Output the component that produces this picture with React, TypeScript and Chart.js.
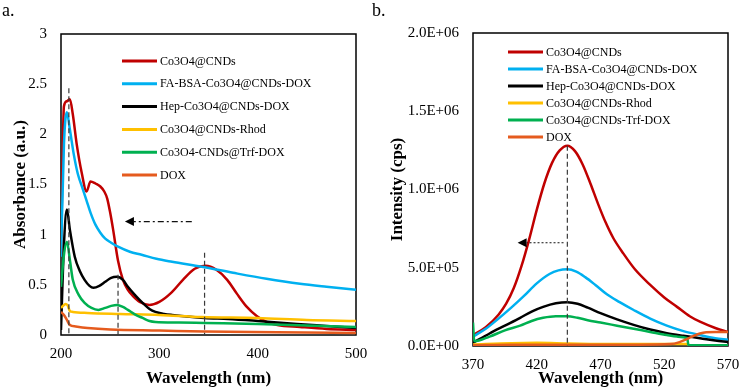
import React, { useEffect, useRef } from "react";
import { Chart, registerables } from "chart.js";

Chart.register(...registerables);

const SERIF = "'Liberation Serif', 'Times New Roman', serif";

// Series colours shared by both panels
const seriesColors = ["#C00000", "#00B0F0", "#000000", "#FFC000", "#00B050", "#E55B1E"];

// ---------- Panel a: UV-vis absorbance ----------
const absLabels = [
  "Co3O4@CNDs",
  "FA-BSA-Co3O4@CNDs-DOX",
  "Hep-Co3O4@CNDs-DOX",
  "Co3O4@CNDs-Rhod",
  "Co3O4-CNDs@Trf-DOX",
  "DOX",
];
const absXTicks = [200, 300, 400, 500];
const absYTicks = [0, 0.5, 1, 1.5, 2, 2.5, 3];

// [wavelength (nm), absorbance]
const absCo3O4 = [
  [200, 0.8], [203, 2.28], [206, 2.33], [209, 2.35], [212, 2.2], [216, 1.9], [221, 1.62],
  [226, 1.43], [230, 1.53], [235, 1.51], [240, 1.48], [244, 1.43], [247, 1.36], [250, 1.22],
  [253, 1.05], [258, 0.74], [263, 0.55], [268, 0.45], [273, 0.39], [280, 0.33], [290, 0.3],
  [300, 0.33], [312, 0.42], [324, 0.55], [336, 0.66], [347, 0.69], [358, 0.65], [369, 0.55],
  [379, 0.41], [389, 0.28], [399, 0.19], [409, 0.13], [420, 0.1], [443, 0.08], [470, 0.06],
  [500, 0.05],
];
const absFaBsa = [
  [200, 0.78], [203, 1.9], [206, 2.22], [209, 2.05], [213, 1.8], [217, 1.61], [222, 1.46],
  [226, 1.34], [230, 1.22], [235, 1.1], [240, 1.02], [245, 0.96], [251, 0.92], [258, 0.88],
  [270, 0.83], [282, 0.8], [297, 0.76], [313, 0.73], [343, 0.68], [375, 0.62], [409, 0.56],
  [443, 0.51], [470, 0.48], [500, 0.45],
];
const absHep = [
  [200, 0.05], [203, 0.9], [206, 1.25], [209, 1.05], [214, 0.78], [219, 0.64], [224, 0.55],
  [229, 0.49], [233, 0.47], [239, 0.49], [245, 0.53], [251, 0.57], [257, 0.58], [263, 0.55],
  [268, 0.48], [276, 0.39], [283, 0.32], [290, 0.26], [296, 0.23], [305, 0.21], [313, 0.2],
  [346, 0.17], [370, 0.16], [400, 0.14], [440, 0.11], [470, 0.09], [500, 0.07],
];
const absRhod = [
  [200, 0.27], [203, 0.3], [205, 0.31], [207, 0.29], [209, 0.24], [212, 0.23], [227, 0.22],
  [260, 0.21], [300, 0.2], [343, 0.18], [400, 0.17], [450, 0.15], [500, 0.14],
];
const absTrf = [
  [200, 0.48], [203, 0.8], [206, 0.93], [209, 0.75], [212, 0.55], [218, 0.4], [224, 0.32],
  [231, 0.27], [238, 0.25], [245, 0.27], [251, 0.29], [257, 0.3], [263, 0.28], [268, 0.25],
  [276, 0.2], [283, 0.17], [290, 0.14], [296, 0.13], [320, 0.125], [346, 0.12], [400, 0.11],
  [450, 0.095], [500, 0.08],
];
const absDox = [
  [200, 0.23], [203, 0.2], [206, 0.15], [209, 0.1], [215, 0.085], [227, 0.07], [250, 0.055],
  [300, 0.045], [346, 0.035], [420, 0.028], [500, 0.02],
];
const absSeries = [absCo3O4, absFaBsa, absHep, absRhod, absTrf, absDox];

// dashed peak guides: [wavelength, top absorbance]
const absGuides = [[208, 2.46], [258, 0.6], [346, 0.82]];
// blue-shift arrow: from / to wavelength at a given absorbance
const absArrow = { from: 333, to: 265, level: 1.13 };

// ---------- Panel b: fluorescence emission ----------
const flLabels = [
  "Co3O4@CNDs",
  "FA-BSA-Co3O4@CNDs-DOX",
  "Hep-Co3O4@CNDs-DOX",
  "Co3O4@CNDs-Rhod",
  "Co3O4@CNDs-Trf-DOX",
  "DOX",
];
const flXTicks = [370, 420, 470, 520, 570];
const flYTicks = [0, 5e5, 1e6, 1.5e6, 2e6];

// [wavelength (nm), intensity (cps)]
const flCo3O4 = [
  [370, 0.07e6], [380, 0.12e6], [390, 0.2e6], [396, 0.27e6], [402, 0.37e6], [408, 0.51e6],
  [414, 0.68e6], [420, 0.87e6], [426, 1.04e6], [432, 1.17e6], [438, 1.25e6], [444, 1.28e6],
  [450, 1.245e6], [456, 1.16e6], [462, 1.04e6], [468, 0.91e6], [474, 0.79e6], [480, 0.69e6],
  [488, 0.59e6], [497, 0.49e6], [509, 0.39e6], [520, 0.31e6], [530, 0.25e6], [540, 0.19e6],
  [548, 0.155e6], [560, 0.115e6], [570, 0.09e6],
];
const flFaBsa = [
  [370, 0.06e6], [380, 0.11e6], [390, 0.175e6], [400, 0.245e6], [410, 0.32e6], [420, 0.4e6],
  [430, 0.46e6], [437, 0.483e6], [444, 0.49e6], [451, 0.475e6], [458, 0.44e6], [466, 0.39e6],
  [475, 0.33e6], [485, 0.28e6], [496, 0.23e6], [509, 0.175e6], [522, 0.13e6], [535, 0.095e6],
  [548, 0.07e6], [560, 0.05e6], [570, 0.04e6],
];
const flHep = [
  [370, 0.02e6], [383, 0.08e6], [395, 0.13e6], [407, 0.18e6], [416, 0.22e6], [425, 0.25e6],
  [435, 0.273e6], [444, 0.28e6], [452, 0.27e6], [460, 0.245e6], [470, 0.21e6], [483, 0.17e6],
  [496, 0.135e6], [509, 0.105e6], [522, 0.082e6], [535, 0.065e6], [548, 0.05e6],
  [560, 0.035e6], [570, 0.025e6],
];
const flRhod = [
  [370, 0.01e6], [400, 0.018e6], [420, 0.02e6], [445, 0.016e6], [480, 0.012e6],
  [520, 0.012e6], [538, 0.012e6], [540, 0.004e6], [570, 0.004e6],
];
const flTrf = [
  [370, 0.15e6], [371, 0.03e6], [383, 0.06e6], [395, 0.1e6], [407, 0.13e6], [416, 0.16e6],
  [425, 0.18e6], [435, 0.19e6], [444, 0.19e6], [452, 0.18e6], [460, 0.165e6], [470, 0.15e6],
  [483, 0.13e6], [496, 0.11e6], [509, 0.09e6], [522, 0.07e6], [530, 0.06e6], [538, 0.05e6],
  [539, 0.005e6], [570, 0.005e6],
];
const flDox = [
  [370, 0.005e6], [400, 0.008e6], [450, 0.008e6], [500, 0.008e6], [525, 0.012e6],
  [532, 0.025e6], [538, 0.045e6], [543, 0.065e6], [548, 0.08e6], [553, 0.088e6],
  [560, 0.09e6], [570, 0.09e6],
];
const flSeries = [flCo3O4, flFaBsa, flHep, flRhod, flTrf, flDox];

const flGuides = [[444, 1.28e6]];
const flArrow = { from: 441, to: 405, level: 0.66e6 };

// ---------- helpers ----------
function sciLabel(v: number) {
  const [m, e] = v.toExponential(1).split("e");
  const sign = e.startsWith("-") ? "-" : "+";
  const digits = e.replace(/[+-]/, "").padStart(2, "0");
  return `${m}E${sign}${digits}`;
}

type Deco = {
  letter: string;
  guides: number[][];
  arrow: { from: number; to: number; level: number };
  arrowDash: number[];
  legendLeft: number;
  legendTop: number;
  legendGap: number;
};

function decorPlugin(d: Deco) {
  return {
    id: "decor",
    beforeDatasetsDraw(chart: any) {
      const { ctx, chartArea: a } = chart;
      ctx.save();
      ctx.strokeStyle = "#000";
      ctx.lineWidth = 1.5;
      ctx.strokeRect(a.left, a.top, a.right - a.left, a.bottom - a.top);
      ctx.restore();
    },
    afterDatasetsDraw(chart: any) {
      const { ctx, chartArea: a, scales } = chart;
      const xs = scales.x;
      const ys = scales.y;
      ctx.save();
      // dashed peak guides
      ctx.strokeStyle = "#3a3a3a";
      ctx.lineWidth = 1.2;
      ctx.setLineDash([5, 3]);
      d.guides.forEach(([wl, top]) => {
        const px = xs.getPixelForValue(wl);
        ctx.beginPath();
        ctx.moveTo(px, ys.getPixelForValue(top));
        ctx.lineTo(px, a.bottom);
        ctx.stroke();
      });
      // shift arrow
      const ay = ys.getPixelForValue(d.arrow.level);
      const x0 = xs.getPixelForValue(d.arrow.from);
      const tip = xs.getPixelForValue(d.arrow.to);
      const headLen = 9;
      ctx.strokeStyle = "#111";
      ctx.lineWidth = 1.1;
      ctx.setLineDash(d.arrowDash);
      ctx.beginPath();
      ctx.moveTo(x0, ay);
      ctx.lineTo(tip + headLen, ay);
      ctx.stroke();
      ctx.setLineDash([]);
      ctx.fillStyle = "#000";
      ctx.beginPath();
      ctx.moveTo(tip, ay);
      ctx.lineTo(tip + headLen, ay - 4.5);
      ctx.lineTo(tip + headLen, ay + 4.5);
      ctx.closePath();
      ctx.fill();
      // legend
      ctx.font = `12px ${SERIF}`;
      ctx.textBaseline = "middle";
      ctx.textAlign = "left";
      chart.data.datasets.forEach((ds: any, i: number) => {
        const ly = a.top + d.legendTop + i * d.legendGap;
        const lx = a.left + d.legendLeft;
        ctx.strokeStyle = ds.borderColor;
        ctx.lineWidth = 3;
        ctx.beginPath();
        ctx.moveTo(lx, ly);
        ctx.lineTo(lx + 35, ly);
        ctx.stroke();
        ctx.fillStyle = "#000";
        ctx.fillText(ds.label, lx + 38, ly + 0.5);
      });
      ctx.restore();
    },
    afterDraw(chart: any) {
      const { ctx } = chart;
      ctx.save();
      ctx.font = `18px ${SERIF}`;
      ctx.fillStyle = "#000";
      ctx.textBaseline = "alphabetic";
      ctx.textAlign = "left";
      ctx.fillText(d.letter, 2, 16);
      ctx.restore();
    },
  };
}

function buildConfig(opts: {
  labels: string[];
  series: number[][][];
  xTicks: number[];
  yTicks: number[];
  yTitle: string;
  yFormat: (v: number) => string;
  yAxisWidth: number;
  yTitlePad: number;
  xAxisHeight: number;
  padding: { top: number; right: number };
  deco: Deco;
}) {
  const n = opts.series.length;
  return {
    type: "line" as const,
    data: {
      datasets: opts.series.map((pts, i) => ({
        label: opts.labels[i],
        data: pts.map(([x, y]) => ({ x, y })),
        borderColor: seriesColors[i],
        backgroundColor: seriesColors[i],
        borderWidth: 2.5,
        pointRadius: 0,
        cubicInterpolationMode: "monotone" as const,
        order: n - i,
      })),
    },
    options: {
      responsive: false,
      animation: false as const,
      devicePixelRatio: 1,
      layout: { padding: { top: opts.padding.top, right: opts.padding.right, left: 0, bottom: 0 } },
      plugins: { legend: { display: false }, tooltip: { enabled: false } },
      scales: {
        x: {
          type: "linear" as const,
          min: opts.xTicks[0],
          max: opts.xTicks[opts.xTicks.length - 1],
          grid: { display: false, drawTicks: false },
          border: { display: false },
          afterBuildTicks: (s: any) => {
            s.ticks = opts.xTicks.map((value) => ({ value }));
          },
          afterFit: (s: any) => {
            s.height = opts.xAxisHeight;
            s.paddingLeft = 0;
            s.paddingRight = 0;
          },
          ticks: { padding: 10, font: { family: SERIF, size: 15 }, color: "#000", maxRotation: 0 },
          title: {
            display: true,
            text: "Wavelength (nm)",
            font: { family: SERIF, size: 17, weight: "bold" as const },
            color: "#000",
            padding: { top: 0, bottom: 1 },
          },
        },
        y: {
          type: "linear" as const,
          min: opts.yTicks[0],
          max: opts.yTicks[opts.yTicks.length - 1],
          grid: { display: false, drawTicks: false },
          border: { display: false },
          afterBuildTicks: (s: any) => {
            s.ticks = opts.yTicks.map((value) => ({ value }));
          },
          afterFit: (s: any) => {
            s.width = opts.yAxisWidth;
            s.paddingTop = 0;
            s.paddingBottom = 0;
          },
          ticks: {
            padding: 14,
            font: { family: SERIF, size: 15 },
            color: "#000",
            callback: (v: any) => opts.yFormat(Number(v)),
          },
          title: {
            display: true,
            text: opts.yTitle,
            font: { family: SERIF, size: 17, weight: "bold" as const },
            color: "#000",
            padding: { top: opts.yTitlePad, bottom: 0 },
          },
        },
      },
    },
    plugins: [decorPlugin(opts.deco)],
  };
}

export default function App() {
  const absRef = useRef<HTMLCanvasElement | null>(null);
  const flRef = useRef<HTMLCanvasElement | null>(null);

  useEffect(() => {
    const charts: Chart[] = [];
    if (absRef.current) {
      charts.push(
        new Chart(
          absRef.current,
          buildConfig({
            labels: absLabels,
            series: absSeries,
            xTicks: absXTicks,
            yTicks: absYTicks,
            yTitle: "Absorbance (a.u.)",
            yFormat: (v) => String(v),
            yAxisWidth: 61,
            yTitlePad: 10,
            xAxisHeight: 55,
            padding: { top: 34, right: 14 },
            deco: {
              letter: "a.",
              guides: absGuides,
              arrow: absArrow,
              arrowDash: [6, 3, 2, 3],
              legendLeft: 61,
              legendTop: 27,
              legendGap: 22.8,
            },
          }) as any
        )
      );
    }
    if (flRef.current) {
      charts.push(
        new Chart(
          flRef.current,
          buildConfig({
            labels: flLabels,
            series: flSeries,
            xTicks: flXTicks,
            yTicks: flYTicks,
            yTitle: "Intensity (cps)",
            yFormat: sciLabel,
            yAxisWidth: 103,
            yTitlePad: 17,
            xAxisHeight: 44,
            padding: { top: 33, right: 11 },
            deco: {
              letter: "b.",
              guides: flGuides,
              arrow: flArrow,
              arrowDash: [2, 2],
              legendLeft: 35,
              legendTop: 19,
              legendGap: 17,
            },
          }) as any
        )
      );
    }
    return () => charts.forEach((c) => c.destroy());
  }, []);

  return (
    <div style={{ position: "absolute", left: 0, top: 0, width: 739, height: 390, background: "#fff" }}>
      <canvas ref={absRef} width={370} height={390} style={{ position: "absolute", left: 0, top: 0 }} />
      <canvas ref={flRef} width={369} height={390} style={{ position: "absolute", left: 370, top: 0 }} />
    </div>
  );
}
